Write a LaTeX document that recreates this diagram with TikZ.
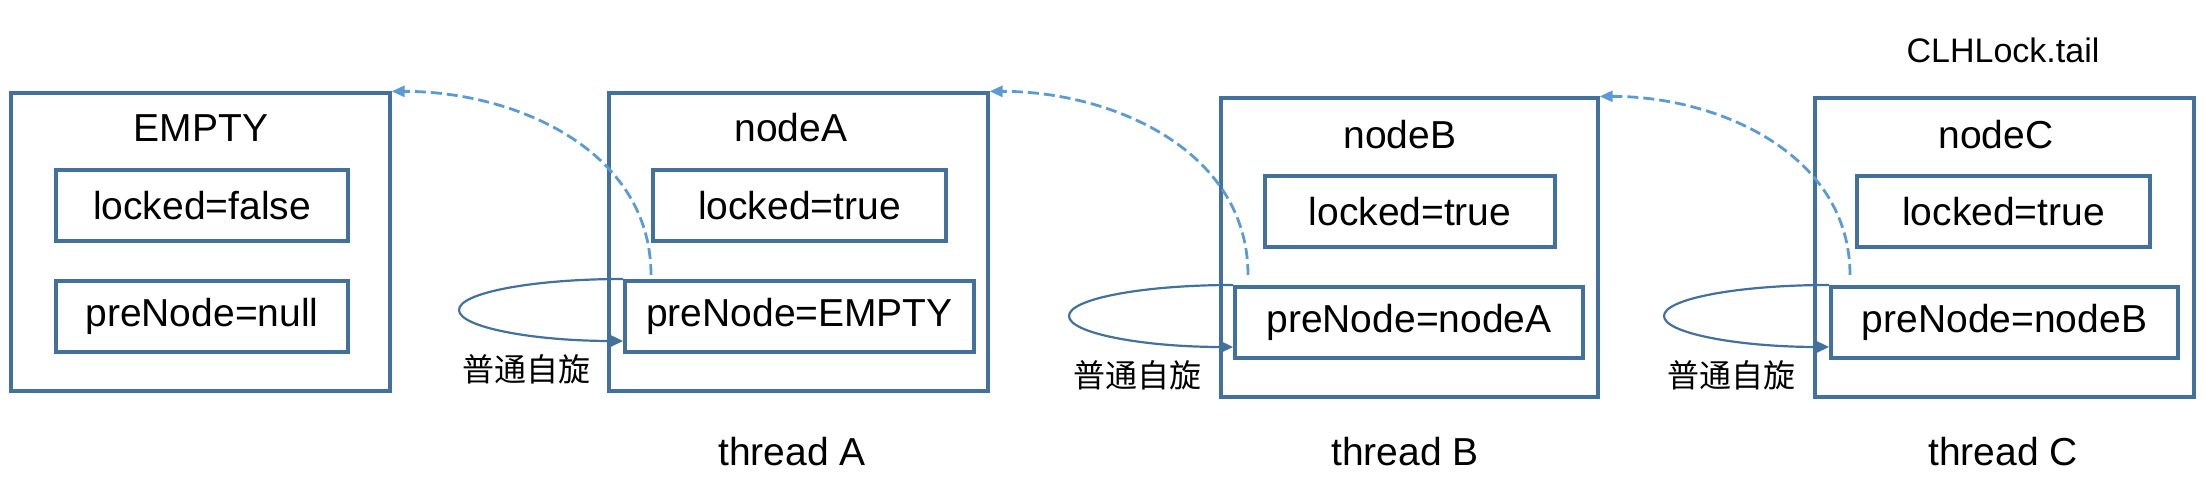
\documentclass[tikz,border=0pt]{standalone}
\usepackage{fontspec}
\setmainfont{Liberation Sans}
\newfontfamily\cjk{Noto Sans CJK SC}
\usetikzlibrary{arrows.meta}
\definecolor{boxblue}{HTML}{41719C}
\definecolor{dashblue}{HTML}{5B9BD5}
\begin{document}
\begin{tikzpicture}[x=1pt,y=1pt,
  outerbox/.style={draw=boxblue,line width=3.3pt,minimum width=379pt,minimum height=298pt,inner sep=0pt},
  fieldbox/.style={draw=boxblue,line width=4pt,minimum height=71pt,inner sep=0pt,font=\fontsize{39}{45}\selectfont},
  title/.style={font=\fontsize{39}{45}\selectfont,inner sep=0pt},
  small/.style={font=\fontsize{34}{40}\selectfont,inner sep=0pt},
  spinlabel/.style={font=\cjk\fontsize{32}{38}\selectfont,inner sep=0pt},
  spinloop/.style={draw=boxblue,line width=2.2pt,-{Triangle[length=12pt,width=11pt]}},
  prevlink/.style={draw=dashblue,line width=2.8pt,dash pattern=on 11pt off 5pt,-{Triangle[length=13pt,width=11pt]}}
]
\useasboundingbox (0,0) rectangle (2206,494);

% EMPTY
\node[outerbox] (bE) at (200.5,252) {};
\node[title] (tE) at (201,366) {EMPTY};
\node[fieldbox,minimum width=292pt] (lE) at (202,288.5) {locked=false};
\node[fieldbox,minimum width=292pt] (pE) at (202,177.5) {preNode=null};

% nodeA
\node[outerbox] (bA) at (798.5,252) {};
\node[title] (tA) at (791,366) {nodeA};
\node[fieldbox,minimum width=293pt] (lA) at (799.5,288.5) {locked=true};
\node[fieldbox,minimum width=349pt] (pA) at (799.5,177.5) {preNode=EMPTY};
\node[title] (thA) at (792,42) {thread A};

% nodeB
\node[outerbox,minimum width=377pt,minimum height=299pt] (bB) at (1409.5,246.5) {};
\node[title] (tB) at (1400,359) {nodeB};
\node[fieldbox,minimum width=290pt] (lB) at (1410,282.5) {locked=true};
\node[fieldbox,minimum width=348pt] (pB) at (1409,171.5) {preNode=nodeA};
\node[title] (thB) at (1405,42) {thread B};

% nodeC
\node[outerbox,minimum height=299pt] (bC) at (2004.5,246.5) {};
\node[title] (tC) at (1996,359) {nodeC};
\node[fieldbox,minimum width=293pt] (lC) at (2003.5,282.5) {locked=true};
\node[fieldbox,minimum width=347pt] (pC) at (2004.5,171.5) {preNode=nodeB};
\node[title] (thC) at (2003,42) {thread C};

\node[small] (tail) at (2003,444) {CLHLock.tail};

% spin loops (half ellipses from the top-left corner back into the left edge)
\draw[spinloop] (pA.north west) arc[start angle=90,end angle=270,x radius=164pt,y radius=31pt];
\node[spinlabel] (sA) at (526,125) {普通自旋};

\draw[spinloop] (pB.north west) arc[start angle=90,end angle=270,x radius=164pt,y radius=31pt];
\node[spinlabel] (sB) at (1137,119) {普通自旋};

\draw[spinloop] (pC.north west) arc[start angle=90,end angle=270,x radius=165pt,y radius=31pt];
\node[spinlabel] (sC) at (1731,119) {普通自旋};

% predecessor links
\draw[prevlink] ([shift={(28pt,4pt)}]pA.north west) to[out=90,in=0] (bE.north east);
\draw[prevlink] ([shift={(15pt,10pt)}]pB.north west) to[out=90,in=0] (bA.north east);
\draw[prevlink] ([shift={(21pt,10pt)}]pC.north west) to[out=90,in=0] (bB.north east);
\end{tikzpicture}
\end{document}
